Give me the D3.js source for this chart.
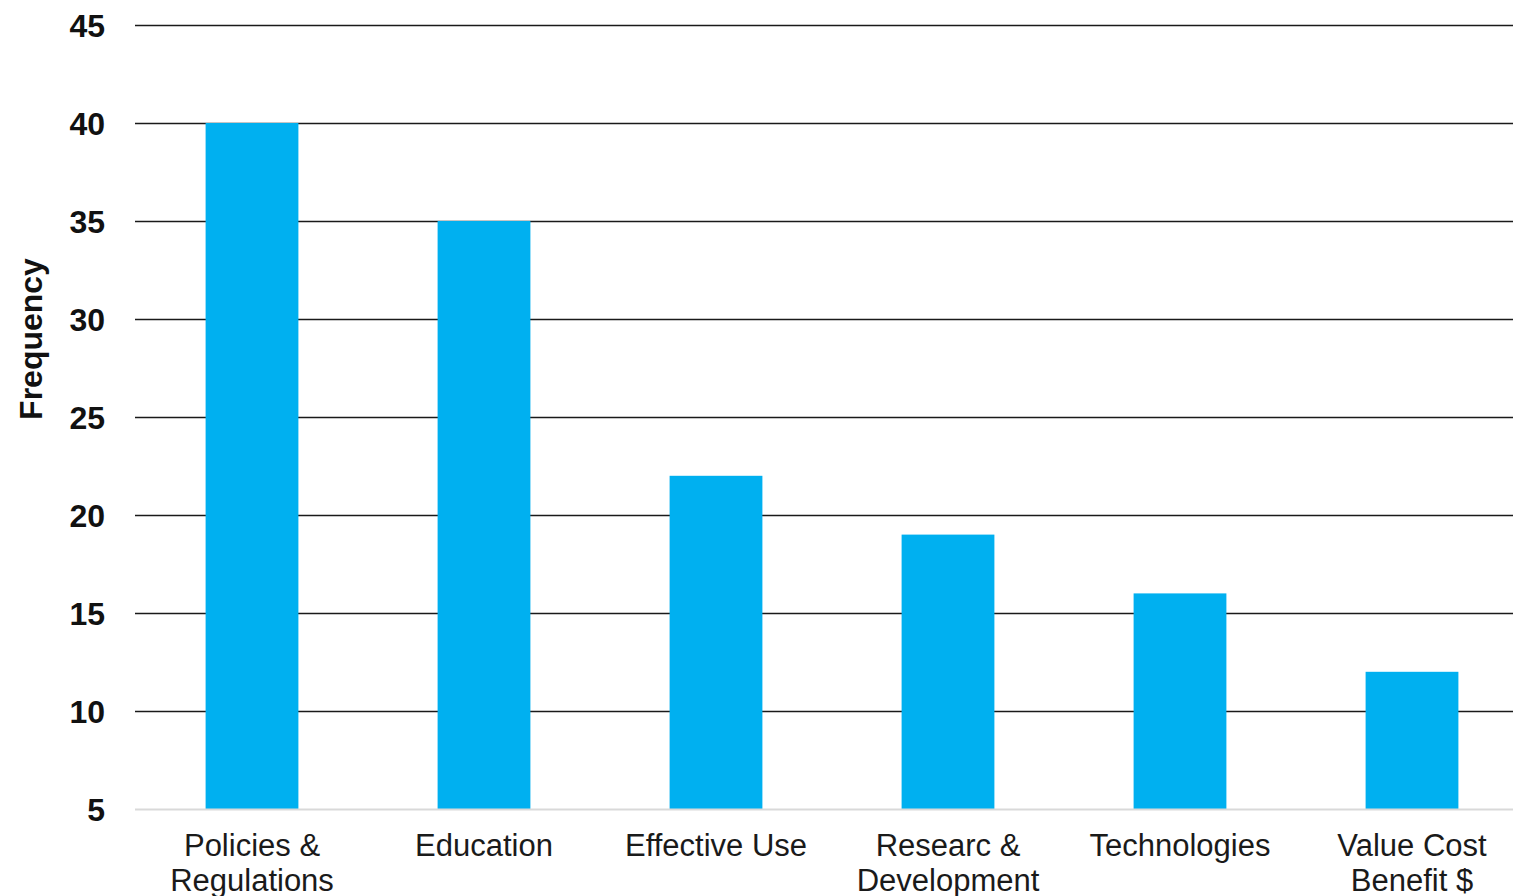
<!DOCTYPE html>
<html>
<head>
<meta charset="utf-8">
<script src="https://cdn.jsdelivr.net/npm/d3@7"></script>
<style>
  body { margin: 0; background: #fff; }
  svg { display: block; font-family: "Liberation Sans", Arial, sans-serif; }
</style>
</head>
<body>
<div id="chart"></div>
<script>
// data
var categories = [["Policies &", "Regulations"], ["Education"], ["Effective Use"],
                  ["Researc &", "Development"], ["Technologies"], ["Value Cost", "Benefit $"]];
var frequency = [40, 35, 22, 19, 16, 12];
var yTicks = [5, 10, 15, 20, 25, 30, 35, 40, 45];

var width = 1513, height = 896;

var svg = d3.select("#chart")
  .append("svg")
    .attr("width", width)
    .attr("height", height);

var keys = categories.map(function(c){ return c.join(" "); });

var x = d3.scaleBand()
  .domain(keys)
  .range([136, 1528])
  .paddingInner(0.6)
  .paddingOuter(0.3);

var y = d3.scaleLinear()
  .domain([5, 45])
  .range([809, 25]);

// gridlines
svg.append("g")
  .selectAll("line")
  .data(yTicks.slice(1))
  .enter().append("line")
    .attr("x1", 135)
    .attr("x2", width)
    .attr("y1", function(d){ return Math.round(y(d)) + 0.5; })
    .attr("y2", function(d){ return Math.round(y(d)) + 0.5; })
    .style("stroke", "#1a1a1a")
    .style("stroke-width", 1.4);

// bars
svg.append("g")
  .selectAll("rect")
  .data(frequency)
  .enter().append("rect")
    .attr("x", function(d, i){ return x(keys[i]); })
    .attr("width", x.bandwidth())
    .attr("y", function(d){ return y(d); })
    .attr("height", function(d){ return y(5) - y(d); })
    .attr("fill", "#00b0f0");

// baseline
svg.append("line")
  .attr("x1", 135).attr("x2", width)
  .attr("y1", y(5) + 0.5).attr("y2", y(5) + 0.5)
  .style("stroke", "#d9d9d9")
  .style("stroke-width", 2);

// y tick labels
svg.append("g")
  .selectAll("text")
  .data(yTicks)
  .enter().append("text")
    .attr("x", 105)
    .attr("y", function(d){ return y(d); })
    .attr("dy", "0.36em")
    .attr("text-anchor", "end")
    .style("font-size", "32px")
    .style("font-weight", "bold")
    .style("fill", "#111")
    .text(function(d){ return d; });

// x category labels
var xl = svg.append("g")
  .selectAll("text")
  .data(categories)
  .enter().append("text")
    .attr("text-anchor", "middle")
    .style("font-size", "31px")
    .style("fill", "#1a1a1a")
    .attr("transform", function(d, i){
      return "translate(" + (x(keys[i]) + x.bandwidth() / 2) + ",856)";
    });

xl.selectAll("tspan")
  .data(function(d){ return d; })
  .enter().append("tspan")
    .attr("x", 0)
    .attr("dy", function(d, i){ return i === 0 ? 0 : 35; })
    .text(function(d){ return d; });

// y axis title
svg.append("text")
  .attr("transform", "translate(42,339) rotate(-90)")
  .attr("text-anchor", "middle")
  .style("font-size", "32px")
  .style("font-weight", "bold")
  .style("fill", "#111")
  .text("Frequency");
</script>
</body>
</html>
